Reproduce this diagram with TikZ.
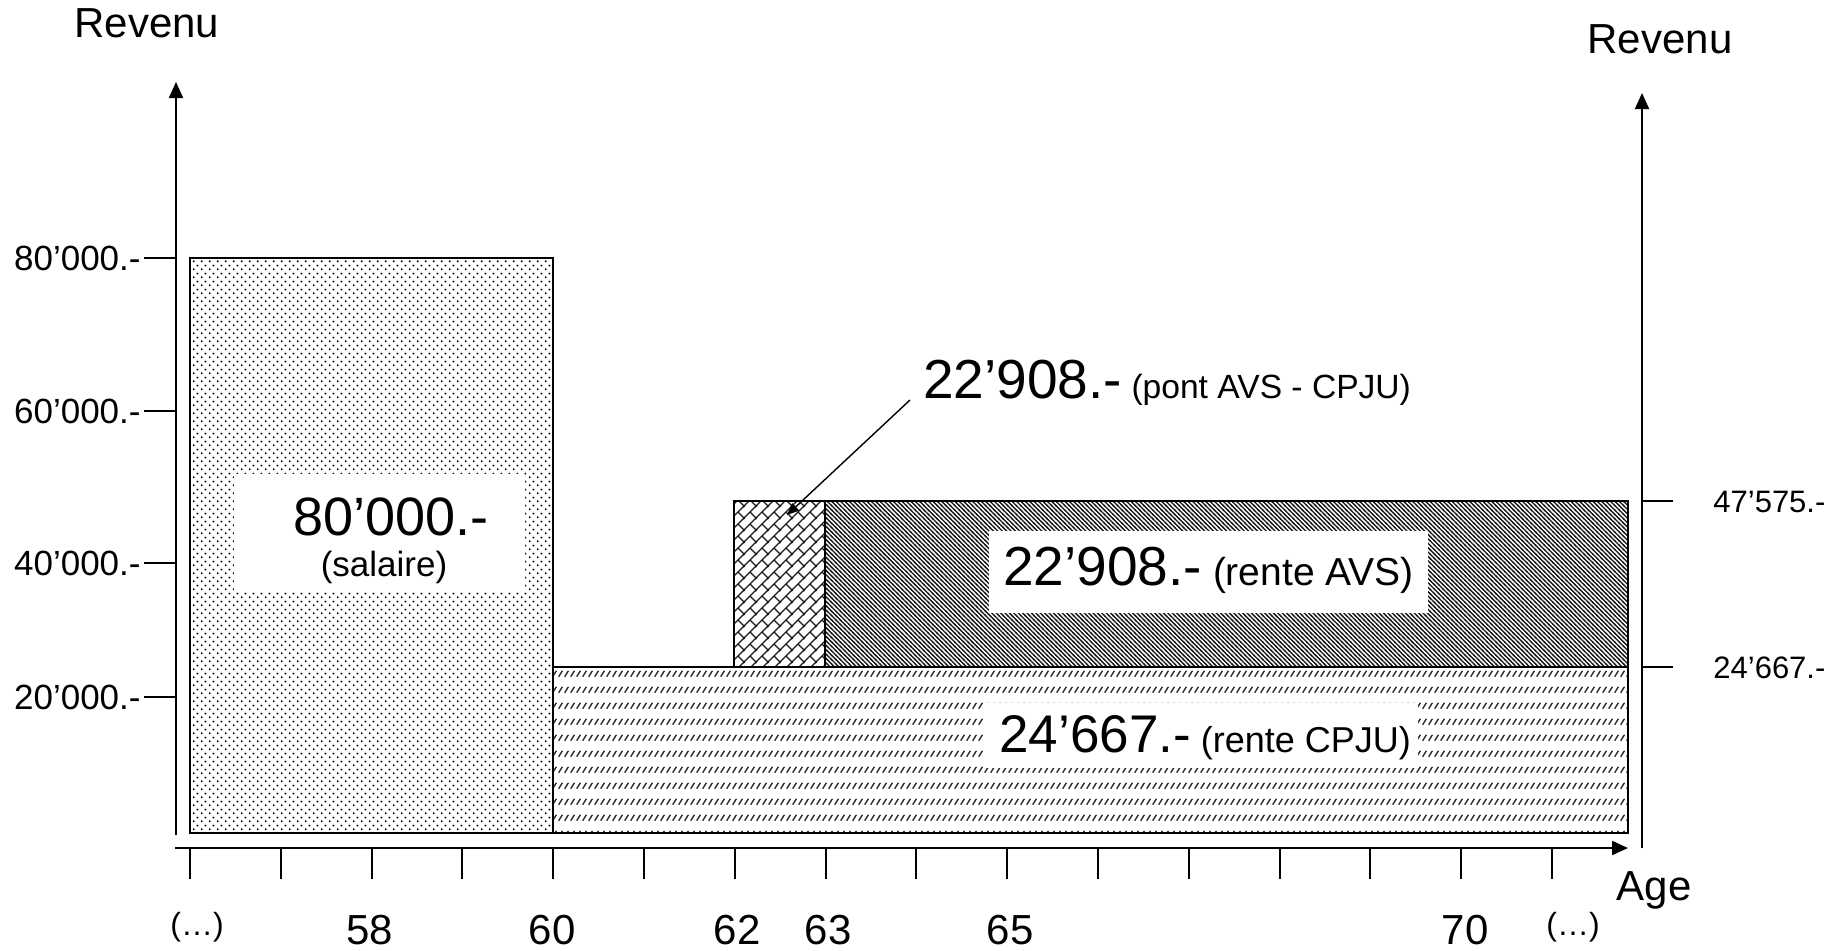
\documentclass[tikz,border=0pt]{standalone}
\usepackage{fontspec}
\setmainfont{Liberation Sans}
\usetikzlibrary{patterns.meta,arrows.meta}
\newcommand{\fsz}[1]{\fontsize{#1}{#1}\selectfont}
\tikzdeclarepattern{name=saldots,type=uncolored,
  bounding box={(0pt,0pt) and (4pt,4pt)},tile size={(4pt,4pt)},
  code={\fill (1pt,1pt) circle (0.6pt); \fill (3pt,3pt) circle (0.6pt);}}
\tikzdeclarepattern{name=avslines,type=uncolored,
  bounding box={(-0.5pt,-0.5pt) and (2.7pt,2.7pt)},tile size={(2.2pt,2.2pt)},
  code={\draw[line width=0.65pt] (-0.6pt,2.8pt) -- (2.8pt,-0.6pt);}}
\tikzdeclarepattern{name=brickdiag,type=uncolored,
  bounding box={(-0.5pt,-0.5pt) and (6.5pt,6.5pt)},tile size={(6pt,6pt)},
  code={\draw[line width=0.65pt] (-0.6pt,-0.6pt) -- (6.6pt,6.6pt);
        \draw[line width=0.65pt] (3pt,3pt) -- (6.4pt,-0.4pt);}}
\tikzdeclarepattern{name=cpjudash,type=uncolored,
  bounding box={(0pt,0pt) and (3pt,7.85pt)},tile size={(3pt,7.85pt)},
  code={\draw[line width=0.75pt] (0.4pt,2.2pt) -- (2.6pt,5.2pt);}}
\begin{document}
\begin{tikzpicture}[x=0.5pt,y=-0.5pt,
  axis/.style={line width=1pt},
  tickline/.style={line width=1pt},
  bar/.style={draw=black,line width=0.9pt},
  lbl/.style={inner sep=0pt,anchor=base},
  >={Triangle[length=8pt,width=7pt]}]
\useasboundingbox (0,0) rectangle (1847,950);

% bars
\draw[bar,pattern=saldots,pattern color=black!90] (190,258) rectangle (553,833);
\draw[bar,pattern=cpjudash,pattern color=black!85] (553,667) rectangle (1628,833);
\draw[bar,pattern=brickdiag,pattern color=black!90] (734,501) rectangle (825,667);
\draw[bar,pattern=avslines,pattern color=black!90] (825,501) rectangle (1628,667);

% white label boxes
\fill[white] (234,474) rectangle (525,592);
\fill[white] (989,531) rectangle (1428,613);
\fill[white] (983,703) rectangle (1418,768);

% axes
\coordinate (ybot) at (176,835); \coordinate (ytop) at (176,82);
\draw[axis,->] (ybot) -- (ytop);
\coordinate (xl) at (175,848); \coordinate (xr) at (1628,848);
\draw[axis,->] (xl) -- (xr);
\coordinate (rbot) at (1642,848); \coordinate (rtop) at (1642,93);
\draw[axis,->] (rbot) -- (rtop);

\node[lbl,font=\fsz{21}] (revL) at (147,37) {Revenu};
\node[lbl,font=\fsz{21}] (revR) at (1660,53) {Revenu};
\node[lbl,font=\fsz{21}] (age) at (1654,900) {Age};

% y ticks left
\foreach \y/\t in {258/80’000.-,411/60’000.-,563/40’000.-,697/20’000.-}{
  \draw[tickline] (144,\y) -- (176,\y);
  \node[inner sep=0pt,anchor=base east,font=\fsz{17.5}] (yl\y) at (141,{\y+12}) {\t};
}
% y ticks right
\foreach \y/\t in {501/47’575.-,667/24’667.-}{
  \draw[tickline] (1642,\y) -- (1673,\y);
  \node[inner sep=0pt,anchor=base west,font=\fsz{15.5}] (yr\y) at (1713,{\y+11}) {\t};
}
% x ticks
\foreach \k in {0,...,15}{
  \draw[tickline] ({190+90.8*\k},848) -- ({190+90.8*\k},879);
}
\foreach \x/\t in {370/58,552/60,737/62,828/63,1010/65,1465/70}{
  \node[lbl,font=\fsz{21}] (xa\t) at (\x,944) {\t};
}
\node[lbl,font=\fsz{16}] (dotsL) at (197,935) {(…)};
\node[lbl,font=\fsz{16}] (dotsR) at (1573,935) {(…)};

% labels
\node[lbl,font=\fsz{27}] (sal1) at (391,535) {80’000.-};
\node[lbl,font=\fsz{17.5}] (sal2) at (384,576) {(salaire)};
\node[inner sep=0pt,anchor=base west] (avs) at (1003,585) {\fsz{27.5}22’908.-\fsz{19.5} (rente AVS)};
\node[inner sep=0pt,anchor=base west] (cpju) at (999,752) {\fsz{26.5}24’667.-\fsz{18} (rente CPJU)};
\node[inner sep=0pt,anchor=base west] (pont) at (923,398) {\fsz{27.5}22’908.-\fsz{16.8} (pont AVS - CPJU)};

% callout arrow
\coordinate (cs) at (910,400);
\coordinate (ce) at (787,515);
\draw[line width=0.7pt,-{Triangle[length=6pt,width=5pt]}] (cs) -- (ce);
\end{tikzpicture}
\end{document}
